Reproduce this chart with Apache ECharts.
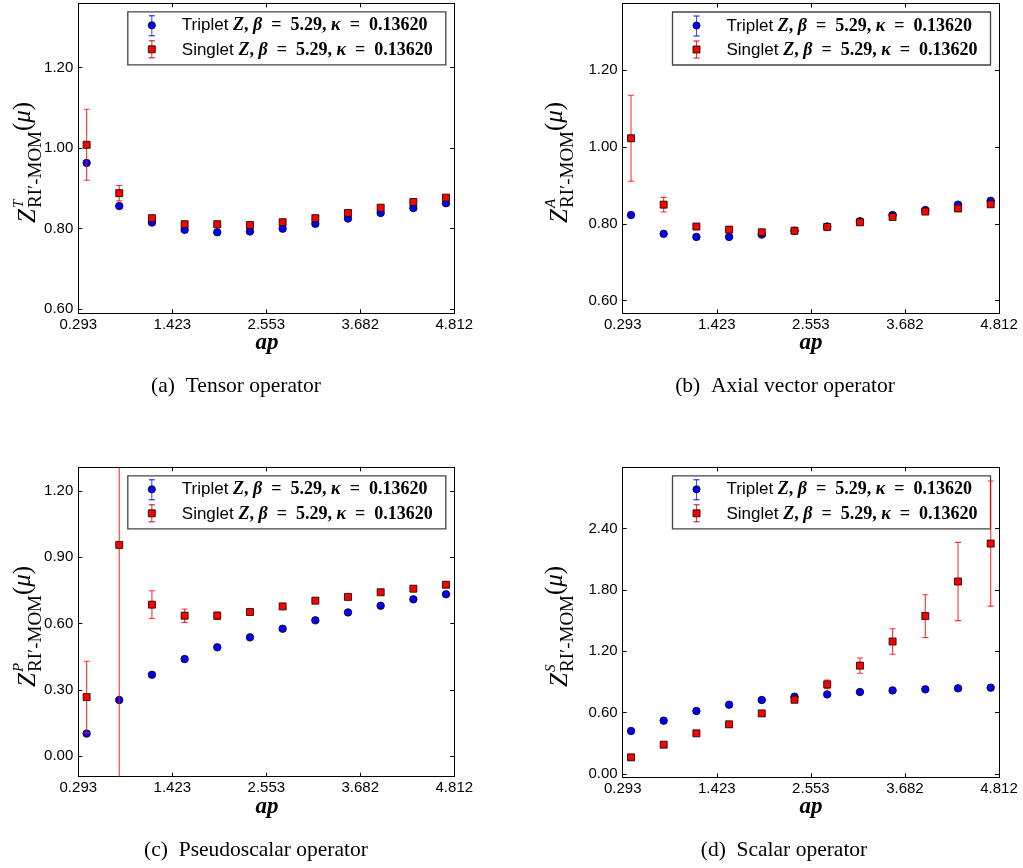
<!DOCTYPE html>
<html>
<head>
<meta charset="utf-8">
<script src="https://cdn.jsdelivr.net/npm/echarts@6/dist/echarts.min.js"></script>
<style>html,body{margin:0;padding:0;background:#fff;}#c{width:1023px;height:868px;}</style>
</head>
<body>
<div id="c"></div>
<script>
// ---- data ----
var xValues = [0.393, 0.785, 1.178, 1.571, 1.963, 2.356, 2.749, 3.142, 3.534, 3.927, 4.320, 4.712];
var xTicks = [0.293, 1.423, 2.553, 3.682, 4.812];

var tensorTriplet = [0.963, 0.856, 0.815, 0.797, 0.791, 0.793, 0.800, 0.812, 0.825, 0.839, 0.851, 0.863];
var tensorTripletErr = [0.004, 0.003, 0.003, 0.003, 0.003, 0.003, 0.003, 0.003, 0.003, 0.003, 0.003, 0.003];
var tensorSinglet = [1.008, 0.888, 0.826, 0.811, 0.811, 0.809, 0.816, 0.826, 0.839, 0.852, 0.866, 0.877];
var tensorSingletErr = [0.088, 0.019, 0.006, 0.005, 0.005, 0.005, 0.005, 0.005, 0.005, 0.005, 0.005, 0.005];
var tensorTicks = [0.60, 0.80, 1.00, 1.20];

var axialTriplet = [0.823, 0.774, 0.766, 0.766, 0.772, 0.782, 0.793, 0.807, 0.823, 0.836, 0.850, 0.860];
var axialTripletErr = [0.004, 0.003, 0.003, 0.003, 0.003, 0.003, 0.003, 0.003, 0.003, 0.003, 0.003, 0.003];
var axialSinglet = [1.023, 0.850, 0.793, 0.785, 0.778, 0.782, 0.792, 0.804, 0.818, 0.832, 0.840, 0.851];
var axialSingletErr = [0.112, 0.019, 0.006, 0.005, 0.005, 0.005, 0.005, 0.005, 0.005, 0.005, 0.005, 0.005];
var axialTicks = [0.60, 0.80, 1.00, 1.20];

var pseudoTriplet = [0.103, 0.255, 0.369, 0.440, 0.493, 0.538, 0.577, 0.615, 0.651, 0.681, 0.710, 0.733];
var pseudoTripletErr = [0.004, 0.004, 0.003, 0.003, 0.003, 0.003, 0.003, 0.003, 0.003, 0.003, 0.003, 0.003];
var pseudoSinglet = [0.268, 0.956, 0.686, 0.636, 0.636, 0.653, 0.678, 0.704, 0.721, 0.742, 0.758, 0.776];
var pseudoSingletErr = [0.162, 1.600, 0.063, 0.030, 0.017, 0.012, 0.008, 0.008, 0.008, 0.008, 0.008, 0.008];
var pseudoTicks = [0.00, 0.30, 0.60, 0.90, 1.20];

var scalarTriplet = [0.421, 0.522, 0.616, 0.678, 0.724, 0.756, 0.779, 0.802, 0.818, 0.828, 0.838, 0.845];
var scalarTripletErr = [0.005, 0.005, 0.005, 0.005, 0.005, 0.005, 0.005, 0.005, 0.005, 0.005, 0.005, 0.005];
var scalarSinglet = [0.163, 0.287, 0.398, 0.486, 0.593, 0.727, 0.877, 1.060, 1.296, 1.545, 1.883, 2.254];
var scalarSingletErr = [0.010, 0.010, 0.012, 0.012, 0.015, 0.030, 0.042, 0.075, 0.125, 0.209, 0.383, 0.612];
var scalarTicks = [0.00, 0.60, 1.20, 1.80, 2.40];

var captions = ['(a)  Tensor operator', '(b)  Axial vector operator', '(c)  Pseudoscalar operator', '(d)  Scalar operator'];
var superscripts = ['T', 'A', 'P', 'S'];

// ---- layout ----
var panels = [
  {left: 78.3, top: 3.3, width: 376, height: 310, ymin: 0.590, ymax: 1.359, ticks: tensorTicks,
   tr: tensorTriplet, trE: tensorTripletErr, si: tensorSinglet, siE: tensorSingletErr,
   cap: [236, 386], xl: [267, 343], yl: [41, 223]},
  {left: 622.7, top: 3.5, width: 376.3, height: 309.8, ymin: 0.567, ymax: 1.374, ticks: axialTicks,
   tr: axialTriplet, trE: axialTripletErr, si: axialSinglet, siE: axialSingletErr,
   cap: [785, 386], xl: [811, 343], yl: [573, 223]},
  {left: 78.3, top: 467.3, width: 376, height: 309.4, ymin: -0.092, ymax: 1.307, ticks: pseudoTicks,
   tr: pseudoTriplet, trE: pseudoTripletErr, si: pseudoSinglet, siE: pseudoSingletErr,
   cap: [256, 850], xl: [267, 807], yl: [41, 687]},
  {left: 622.7, top: 467.3, width: 376.3, height: 310, ymin: -0.032, ymax: 3.0, ticks: scalarTicks,
   tr: scalarTriplet, trE: scalarTripletErr, si: scalarSinglet, siE: scalarSingletErr,
   cap: [784, 850], xl: [811, 807], yl: [573, 687]}
];

var BLUE = '#0000ff', RED = '#ff0000';
var SANS = '"Liberation Sans", Arial, sans-serif';
var SERIF = '"Liberation Serif", "Times New Roman", serif';

function errRender(color) {
  return function (params, api) {
    var x = api.value(0), y = api.value(1), e = api.value(2);
    var t = api.coord([x, y + e]), b = api.coord([x, y - e]);
    var cw = 3;
    var st = {stroke: color, lineWidth: 1.1, opacity: 0.8};
    return {type: 'group', children: [
      {type: 'line', shape: {x1: t[0], y1: t[1], x2: b[0], y2: b[1]}, style: st},
      {type: 'line', shape: {x1: t[0] - cw, y1: t[1], x2: t[0] + cw, y2: t[1]}, style: st},
      {type: 'line', shape: {x1: b[0] - cw, y1: b[1], x2: b[0] + cw, y2: b[1]}, style: st}
    ]};
  };
}

var grids = [], xAxes = [], yAxes = [], series = [], graphics = [];

panels.forEach(function (p, i) {
  grids.push({left: p.left, top: p.top, width: p.width, height: p.height, show: false});
  xAxes.push({type: 'value', gridIndex: i, min: 0.293, max: 4.812, position: 'bottom',
    axisLine: {show: true, onZero: false, lineStyle: {color: '#000', width: 1}},
    axisTick: {show: true, inside: true, length: 4, customValues: xTicks, lineStyle: {color: '#000'}},
    axisLabel: {show: true, customValues: xTicks, margin: 4, color: '#000', fontSize: 15, fontFamily: SANS,
      formatter: function (v) { return v.toFixed(3); }},
    splitLine: {show: false}});
  yAxes.push({type: 'value', gridIndex: i, min: p.ymin, max: p.ymax, position: 'left',
    axisLine: {show: true, onZero: false, lineStyle: {color: '#000', width: 1}},
    axisTick: {show: true, inside: true, length: 4, customValues: p.ticks, lineStyle: {color: '#000'}},
    axisLabel: {show: true, customValues: p.ticks, margin: 5, color: '#000', fontSize: 15, fontFamily: SANS,
      formatter: function (v) { return v.toFixed(2); }},
    splitLine: {show: false}});
  xAxes.push({type: 'value', gridIndex: i, min: 0.293, max: 4.812, position: 'top',
    axisLine: {show: true, onZero: false, lineStyle: {color: '#000', width: 1}},
    axisTick: {show: true, inside: true, length: 4, customValues: xTicks, lineStyle: {color: '#000'}},
    axisLabel: {show: false}, splitLine: {show: false}});
  yAxes.push({type: 'value', gridIndex: i, min: p.ymin, max: p.ymax, position: 'right',
    axisLine: {show: true, onZero: false, lineStyle: {color: '#000', width: 1}},
    axisTick: {show: true, inside: true, length: 4, customValues: p.ticks, lineStyle: {color: '#000'}},
    axisLabel: {show: false}, splitLine: {show: false}});

  var xi = 2 * i, yi = 2 * i;
  var trData = xValues.map(function (x, k) { return [x, p.tr[k], p.trE[k]]; });
  var siData = xValues.map(function (x, k) { return [x, p.si[k], p.siE[k]]; });
  series.push({type: 'custom', name: 'Triplet err', xAxisIndex: xi, yAxisIndex: yi, clip: true, z: 1,
    renderItem: errRender(BLUE), encode: {x: 0, y: 1}, data: trData, silent: true});
  series.push({type: 'scatter', name: 'Triplet', xAxisIndex: xi, yAxisIndex: yi, z: 2,
    symbol: 'circle', symbolSize: 7.5,
    itemStyle: {color: BLUE, borderColor: '#000', borderWidth: 0.8, opacity: 1},
    data: trData.map(function (d) { return [d[0], d[1]]; })});
  series.push({type: 'custom', name: 'Singlet err', xAxisIndex: xi, yAxisIndex: yi, clip: true, z: 3,
    renderItem: errRender(RED), encode: {x: 0, y: 1}, data: siData, silent: true});
  series.push({type: 'scatter', name: 'Singlet', xAxisIndex: xi, yAxisIndex: yi, z: 4,
    symbol: 'rect', symbolSize: 7,
    itemStyle: {color: RED, borderColor: '#000', borderWidth: 0.8, opacity: 1},
    data: siData.map(function (d) { return [d[0], d[1]]; })});

  // legend box (graphic)
  var lx = p.left + p.width - 326.5, ly = p.top + 8.5;
  var legendChildren = [
    {type: 'rect', shape: {x: lx, y: ly, width: 318, height: 53}, style: {fill: '#fff', stroke: '#444', lineWidth: 1.3}},
    {type: 'line', shape: {x1: lx + 24, y1: ly + 4, x2: lx + 24, y2: ly + 24}, style: {stroke: BLUE, lineWidth: 1.1, opacity: 0.7}},
    {type: 'line', shape: {x1: lx + 21, y1: ly + 4, x2: lx + 27, y2: ly + 4}, style: {stroke: BLUE, lineWidth: 1}},
    {type: 'line', shape: {x1: lx + 21, y1: ly + 24, x2: lx + 27, y2: ly + 24}, style: {stroke: BLUE, lineWidth: 1}},
    {type: 'circle', shape: {cx: lx + 24, cy: ly + 13.5, r: 3.6}, style: {fill: BLUE, stroke: '#000', lineWidth: 0.8}},
    {type: 'line', shape: {x1: lx + 24, y1: ly + 29, x2: lx + 24, y2: ly + 46}, style: {stroke: RED, lineWidth: 1.1, opacity: 0.8}},
    {type: 'line', shape: {x1: lx + 21, y1: ly + 29, x2: lx + 27, y2: ly + 29}, style: {stroke: '#c00030', lineWidth: 1}},
    {type: 'line', shape: {x1: lx + 21, y1: ly + 46, x2: lx + 27, y2: ly + 46}, style: {stroke: '#c00030', lineWidth: 1}},
    {type: 'rect', shape: {x: lx + 20.5, y: ly + 34, width: 7, height: 7}, style: {fill: RED, stroke: '#000', lineWidth: 0.8}}
  ];
  var rich = {
    s: {fontFamily: SANS, fontSize: 17, color: '#000'},
    mi: {fontFamily: SERIF, fontSize: 18, fontStyle: 'italic', fontWeight: 'bold', color: '#000'},
    m: {fontFamily: SERIF, fontSize: 18, fontWeight: 'bold', color: '#000'}
  };
  ['Triplet', 'Singlet'].forEach(function (nm, k) {
    legendChildren.push({type: 'text', x: lx + 54, y: ly + 14 + k * 24.5,
      style: {text: '{s|' + nm + ' }{mi|Z}{m|, }{mi|\u03b2}{m|  =  5.29, }{mi|\u03ba}{m|  =  0.13620}', rich: rich,
        align: 'left', verticalAlign: 'middle', textAlign: 'left', textVerticalAlign: 'middle'}});
  });
  graphics.push({type: 'group', children: legendChildren, z: 100});

  // y-axis label (rotated)
  graphics.push({type: 'group', x: p.yl[0], y: p.yl[1], rotation: Math.PI / 2, children: [
    {type: 'text', x: 0, y: 0, style: {text: 'Z', fontFamily: SERIF, fontStyle: 'italic', fontSize: 25, fill: '#000',
      align: 'left', verticalAlign: 'bottom', textAlign: 'left', textVerticalAlign: 'bottom'}},
    {type: 'text', x: 15, y: -14, style: {text: superscripts[i], fontFamily: SERIF, fontStyle: 'italic', fontSize: 15, fill: '#000',
      align: 'left', verticalAlign: 'bottom', textAlign: 'left', textVerticalAlign: 'bottom'}},
    {type: 'text', x: 15, y: 5, style: {text: 'RI\u2032-MOM', fontFamily: SERIF, fontSize: 19, fill: '#000',
      align: 'left', verticalAlign: 'bottom', textAlign: 'left', textVerticalAlign: 'bottom'}},
    {type: 'text', x: 92, y: -5, style: {text: '({i|\u03bc})', fontFamily: SERIF, fontSize: 25, fill: '#000',
      rich: {i: {fontFamily: SERIF, fontStyle: 'italic', fontSize: 25}},
      align: 'left', verticalAlign: 'bottom', textAlign: 'left', textVerticalAlign: 'bottom'}}
  ]});

  graphics.push({type: 'text', x: p.xl[0], y: p.xl[1], style: {text: 'ap', fontFamily: SERIF, fontStyle: 'italic', fontWeight: 'bold',
    fontSize: 23, fill: '#000', align: 'center', verticalAlign: 'middle', textAlign: 'center', textVerticalAlign: 'middle'}});
  graphics.push({type: 'text', x: p.cap[0], y: p.cap[1], style: {text: captions[i], fontFamily: SERIF, fontSize: 21.5, fill: '#000',
    align: 'center', verticalAlign: 'middle', textAlign: 'center', textVerticalAlign: 'middle'}});
});

var chart = echarts.init(document.getElementById('c'));
chart.setOption({
  animation: false,
  backgroundColor: '#fff',
  grid: grids, xAxis: xAxes, yAxis: yAxes, series: series, graphic: graphics
});
</script>
</body>
</html>
